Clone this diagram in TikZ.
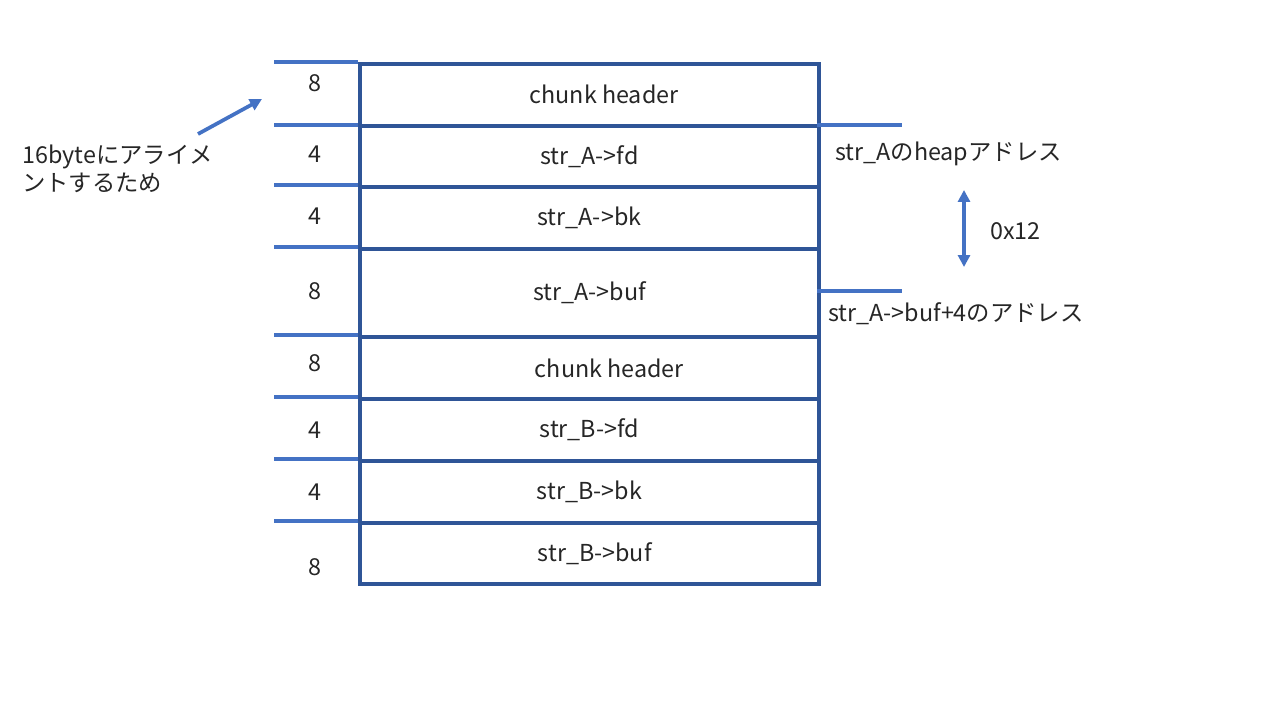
\documentclass[tikz,border=0pt]{standalone}
\usepackage{fontspec}
\setmainfont{Noto Sans CJK JP}
\usetikzlibrary{arrows.meta}
\definecolor{boxblue}{HTML}{2F5597}
\definecolor{lineblue}{HTML}{4472C4}
\begin{document}
\begin{tikzpicture}[x=0.75pt,y=-0.75pt,
  txt/.style={font=\fontsize{17.5}{21}\selectfont, text=black!85, inner sep=0pt},
  rowbox/.style={draw=boxblue, line width=2.8pt, minimum width=459*0.75pt, inner sep=0pt, anchor=north west, font=\fontsize{17.5}{21}\selectfont, text=black!85},
  tickline/.style={draw=lineblue, line width=2.6pt},
  bluearrow/.style={draw=lineblue, line width=2.8pt, -{Triangle[length=9pt,width=9pt]}},
  dblarrow/.style={draw=lineblue, line width=2.6pt, {Triangle[length=9pt,width=9pt]}-{Triangle[length=9pt,width=9pt]}}]
\useasboundingbox (0,0) rectangle (1280,720);
% rows
\node[rowbox, minimum height=62*0.75pt] (r1) at (358,62) {\hspace*{22pt}chunk header};
\node[rowbox, minimum height=61*0.75pt] (r2) at (358,124) {str\_A->fd};
\node[rowbox, minimum height=62*0.75pt] (r3) at (358,185) {str\_A->bk};
\node[rowbox, minimum height=88*0.75pt] (r4) at (358,247) {str\_A->buf};
\node[rowbox, minimum height=62*0.75pt] (r5) at (358,335) {\hspace*{30pt}chunk header};
\node[rowbox, minimum height=62*0.75pt] (r6) at (358,397) {str\_B->fd};
\node[rowbox, minimum height=62*0.75pt] (r7) at (358,459) {str\_B->bk};
\node[rowbox, minimum height=61*0.75pt] (r8) at (358,521) {\hspace*{8pt}str\_B->buf};
% left ticks
\foreach \y in {62,125,185,247,335,397,459,521} {
  \draw[tickline] (274,\y) -- (358,\y);
}
% sizes
\node[txt] (s1) at (315,83) {8};
\node[txt] (s2) at (315,154) {4};
\node[txt] (s3) at (315,216) {4};
\node[txt] (s4) at (315,291) {8};
\node[txt] (s5) at (315,363) {8};
\node[txt] (s6) at (315,430) {4};
\node[txt] (s7) at (315,492) {4};
\node[txt] (s8) at (315,567) {8};
% right ticks
\coordinate (ra1) at (817,125);
\coordinate (ra2) at (902,125);
\coordinate (rb1) at (817,291);
\coordinate (rb2) at (902,291);
\draw[tickline] (ra1) -- (ra2);
\draw[tickline] (rb1) -- (rb2);
\node[txt, anchor=west] (heap) at (835,154) {str\_Aのheapアドレス};
\node[txt, anchor=west] (bufaddr) at (828,314) {str\_A->buf+4のアドレス};
\node[txt, anchor=west] (off) at (990,231) {0x12};
\coordinate (da1) at (964,190);
\coordinate (da2) at (964,267);
\draw[dblarrow] (da1) -- (da2);
% left note
\node[txt, anchor=north west, align=left] (note) at (22,145) {16byteにアライメ\\ントするため};
\coordinate (n1) at (198,134);
\coordinate (n2) at (262,99);
\draw[bluearrow] (n1) -- (n2);
\end{tikzpicture}
\end{document}
